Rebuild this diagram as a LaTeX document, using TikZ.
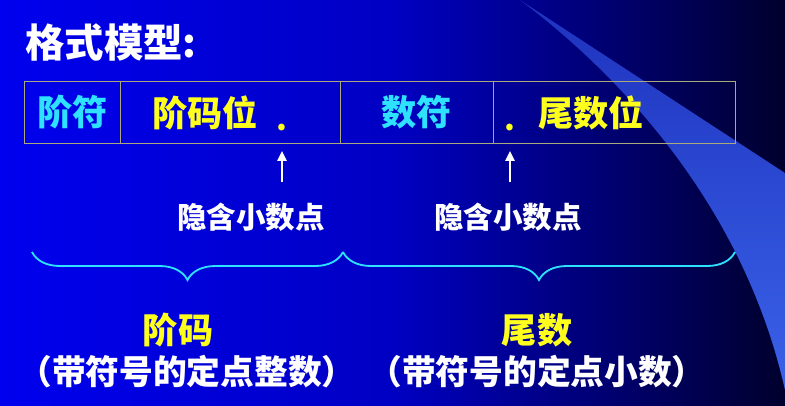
\documentclass[tikz,border=0pt]{standalone}
\usepackage{fontspec}
\setmainfont{Noto Sans CJK SC}
\usetikzlibrary{positioning,arrows.meta,decorations.pathreplacing}

\definecolor{slideblue}{RGB}{0,0,238}
\definecolor{slidemid}{RGB}{0,0,195}
\definecolor{slidenavy}{RGB}{0,0,45}
\definecolor{swoosh}{RGB}{58,98,232}
\definecolor{swooshtop}{RGB}{30,50,190}
\definecolor{signcyan}{RGB}{45,225,255}
\definecolor{bitsyellow}{RGB}{255,255,30}
\definecolor{framegray}{RGB}{170,170,125}

\begin{document}
\begin{tikzpicture}[
        x=0.025cm, y=-0.025cm,
        cell/.style={draw=framegray, line width=0.7pt, outer sep=0pt, minimum height=1.525cm, inner ysep=0pt, font=\fontsize{25}{28}\selectfont\bfseries},
        sign/.style={cell, text=signcyan},
        bits/.style={cell, text=bitsyellow, align=left},
        dotmark/.style={text=bitsyellow, inner sep=0pt, font=\fontsize{22}{26}\selectfont\bfseries},
        hint/.style={text=white, inner sep=0pt, font=\fontsize{21}{24}\selectfont\bfseries},
        part/.style={text=bitsyellow, inner sep=0pt, font=\fontsize{25}{28}\selectfont\bfseries},
        note/.style={text=white, inner sep=0pt, font=\fontsize{24}{28}\selectfont\bfseries},
        pointer/.style={-{Triangle[length=7pt,width=6.5pt]}, white, line width=1.6pt},
        brace/.style={decorate, decoration={brace, mirror, amplitude=0.7cm}, signcyan, line width=1.3pt}
    ]
        % slide background
        \fill[left color=slideblue, right color=slidenavy, middle color=slidemid] (0,0) rectangle (785,406);
        \shade[top color=swooshtop, bottom color=swoosh] (520,0) -- (785,173) -- (785,390)
            .. controls (740,190) and (600,60) .. (520,0) -- cycle;
        \useasboundingbox (0,0) rectangle (785,406);

        \node[text=white, anchor=west, inner sep=0pt, font=\fontsize{28}{32}\selectfont\bfseries] (title) at (25,42) {格式模型:};

        % the four fields
        \node[sign, minimum width=2.375cm, inner xsep=0pt] (expsign) at (72.5,112.5) {阶符};
        \node[bits, inner xsep=0.8cm, text width=3.9cm, right=0pt of expsign] (expbits) {阶码位};
        \node[sign, minimum width=3.825cm, inner xsep=0pt, right=0pt of expbits] (mantsign) {数符};
        \node[bits, inner xsep=1.125cm, text width=3.8cm, right=0pt of mantsign] (mantbits) {尾数位};

        \node[dotmark, anchor=base] (dotA) at (282,131) {.};
        \node[dotmark, anchor=base] (dotB) at (510,131) {.};

        \node[hint] (hintA) at (251,217) {隐含小数点};
        \node[hint] (hintB) at (508,217) {隐含小数点};

        \draw[pointer, shorten <=0.5cm, shorten >=0.2cm] (dotA |- hintA.north) -- (dotA |- expbits.south);
        \draw[pointer, shorten <=0.5cm, shorten >=0.2cm] (dotB |- hintB.north) -- (dotB |- mantbits.south);

        % braces
        \coordinate (braceL) at (32,252);
        \coordinate (braceM) at (343,252);
        \coordinate (braceR) at (735,252);
        \draw[brace] (braceL) -- (braceM);
        \draw[brace] (braceM) -- (braceR);

        \node[part] (expname) at (178,330) {阶码};
        \node[part] (mantname) at (537,330) {尾数};
        \node[note] (expnote) at (187,372) {（带符号的定点整数）};
        \node[note] (mantnote) at (537,372) {（带符号的定点小数）};
    \end{tikzpicture}
\end{document}
